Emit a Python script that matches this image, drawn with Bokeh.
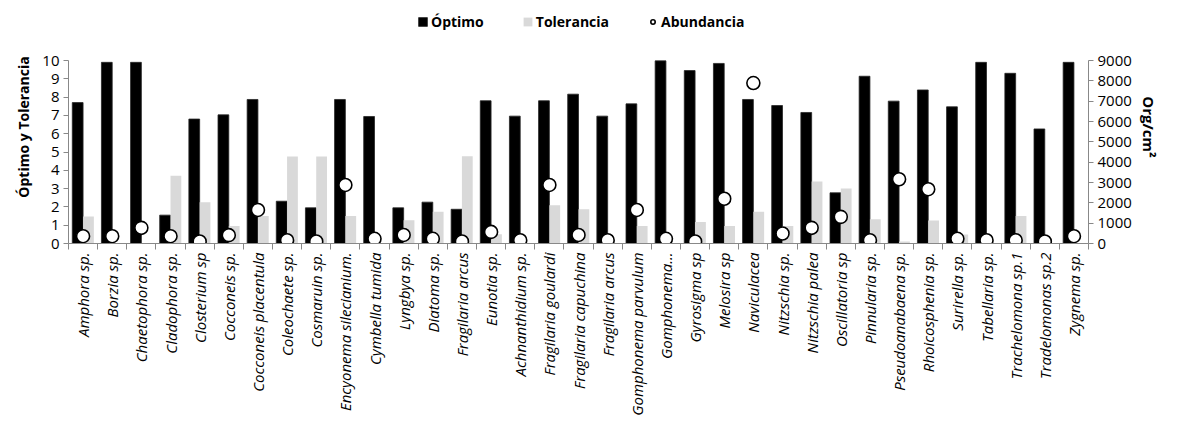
import math
from bokeh.plotting import figure
from bokeh.models import (Range1d, LinearAxis, FixedTicker, Legend, LegendItem, ColumnDataSource)
from bokeh.embed import file_html
from bokeh.resources import INLINE

species = ["Amphora sp.", "Borzia sp.", "Chaetophora sp.", "Cladophora sp.", "Closterium sp",
           "Cocconeis sp.", "Cocconeis placentula", "Coleochaete sp.", "Cosmaruin sp.",
           "Encyonema silecianium.", "Cymbella tumida", "Lyngbya sp.", "Diatoma sp.",
           "Fragilaria arcus", "Eunotia sp.", "Achnanthidium sp.", "Fragilaria goulardi",
           "Fragilaria capuchina", "Fragilaria arcus", "Gomphonema parvulum", "Gomphonema...",
           "Gyrosigma sp", "Melosira sp", "Naviculacea", "Nitzschia sp.", "Nitzschia palea",
           "Oscillatoria sp", "Pinnularia sp.", "Pseudoanabaena sp.", "Rhoicosphenia sp.",
           "Surirella sp.", "Tabellaria sp.", "Trachelomona sp.1", "Tradelomonas sp.2", "Zygnema sp."]

optimo = [7.7, 9.9, 9.9, 1.55, 6.8, 7.03, 7.87, 2.31, 1.95, 7.87, 6.94, 1.95, 2.26, 1.87, 7.8,
          6.96, 7.8, 8.16, 6.96, 7.63, 9.98, 9.45, 9.84, 7.87, 7.54, 7.16, 2.77, 9.14, 7.78,
          8.39, 7.47, 9.9, 9.3, 6.26, 9.9]

tolerancia = [1.48, 0, 0, 3.7, 2.26, 0.95, 1.5, 4.75, 4.75, 1.5, 0, 1.27, 1.73, 4.77, 0.51,
              0, 2.09, 1.87, 0, 0.95, 0, 1.18, 0.95, 1.73, 0.95, 3.39, 3.0, 1.33, 0.11,
              1.26, 0.49, 0, 1.5, 0, 0]

abundancia = [360, 360, 770, 360, 100, 410, 1650, 160, 100, 2880, 230, 420, 230, 100, 570,
              160, 2880, 420, 160, 1650, 230, 100, 2200, 7890, 490, 770, 1310, 160, 3160,
              2670, 230, 160, 160, 100, 360]

left_ticks = list(range(0, 11))
right_ticks = list(range(0, 9001, 1000))

n = len(species)
xs = list(range(1, n + 1))
bw = 0.37

src = ColumnDataSource(dict(
    x=xs,
    xo=[x - bw / 2 for x in xs],
    xt=[x + bw / 2 for x in xs],
    opt=optimo, tol=tolerancia, ab=abundancia,
))

FONT = "Open Sans"

# frame spans 233 px; the axes' 0..10 / 0..9000 occupy its lower 183 px
TOP_PAD = 233.0 / 183.0

p = figure(width=1161, height=418, output_backend="svg", toolbar_location=None,
           x_range=Range1d(0.5, n + 0.5), y_range=Range1d(0, 10 * TOP_PAD),
           min_border_left=68, min_border_right=63, min_border_top=10, min_border_bottom=175)
p.outline_line_color = None
p.xgrid.visible = False
p.ygrid.visible = False
p.background_fill_color = "white"

p.extra_y_ranges = {"ab": Range1d(0, 9000 * TOP_PAD)}

r_opt = p.vbar(x="xo", top="opt", width=bw, source=src, fill_color="black", line_color="#262626", line_width=0.8)
r_tol = p.vbar(x="xt", top="tol", width=bw, source=src, fill_color="#d9d9d9", line_color=None)
r_ab = p.scatter(x="x", y="ab", source=src, y_range_name="ab", size=13, marker="circle",
                 fill_color="white", line_color="black", line_width=1.6)

AX = "#888888"

# x axis
xa = p.xaxis[0]
xa.ticker = FixedTicker(ticks=xs, minor_ticks=[i + 0.5 for i in range(0, n + 1)])
xa.major_label_overrides = {x: s for x, s in zip(xs, species)}
xa.major_label_orientation = math.pi / 2
xa.major_tick_out = 0
xa.major_tick_in = 0
xa.minor_tick_out = 6
xa.minor_tick_in = 0
xa.minor_tick_line_color = AX
xa.axis_line_color = AX
xa.major_label_text_font = FONT
xa.major_label_text_font_style = "italic"
xa.major_label_text_font_size = "15px"
xa.major_label_text_color = "black"
xa.major_label_standoff = 3

# left axis
ya = p.yaxis[0]
ya.ticker = FixedTicker(ticks=left_ticks)
ya.bounds = (0, 10)
ya.axis_line_color = AX
ya.major_tick_line_color = AX
ya.major_tick_out = 5
ya.major_tick_in = 0
ya.minor_tick_line_color = None
ya.major_label_text_font = FONT
ya.major_label_text_font_size = "15px"
ya.major_label_text_color = "black"
ya.major_label_standoff = 4
ya.axis_label = "Óptimo y Tolerancia"
ya.axis_label_text_font = FONT
ya.axis_label_text_font_style = "bold"
ya.axis_label_text_font_size = "14px"
ya.axis_label_text_color = "black"
ya.axis_label_standoff = 6

# right axis
ra = LinearAxis(y_range_name="ab", ticker=FixedTicker(ticks=right_ticks), bounds=(0, 9000))
ra.axis_line_color = AX
ra.major_tick_line_color = AX
ra.major_tick_out = 5
ra.major_tick_in = 0
ra.minor_tick_line_color = None
ra.major_label_text_font = FONT
ra.major_label_text_font_size = "15px"
ra.major_label_text_color = "black"
ra.major_label_standoff = 4
ra.axis_label = "Org/cm²"
ra.axis_label_text_font = FONT
ra.axis_label_text_font_style = "bold"
ra.axis_label_text_font_size = "15px"
ra.axis_label_text_color = "black"
ra.axis_label_standoff = 4
p.add_layout(ra, "right")

legend = Legend(items=[LegendItem(label="Óptimo", renderers=[r_opt]),
                       LegendItem(label="Tolerancia", renderers=[r_tol]),
                       LegendItem(label="Abundancia", renderers=[r_ab])],
                orientation="horizontal", location=(349, 212),
                border_line_color=None, background_fill_alpha=0,
                label_text_font=FONT, label_text_font_style="bold", label_text_font_size="14px",
                label_text_color="black",
                glyph_width=11, glyph_height=11, label_standoff=3, spacing=38, padding=2,
                label_height=14)
p.add_layout(legend, "center")

open("out.html", "w").write(file_html(p, INLINE))
